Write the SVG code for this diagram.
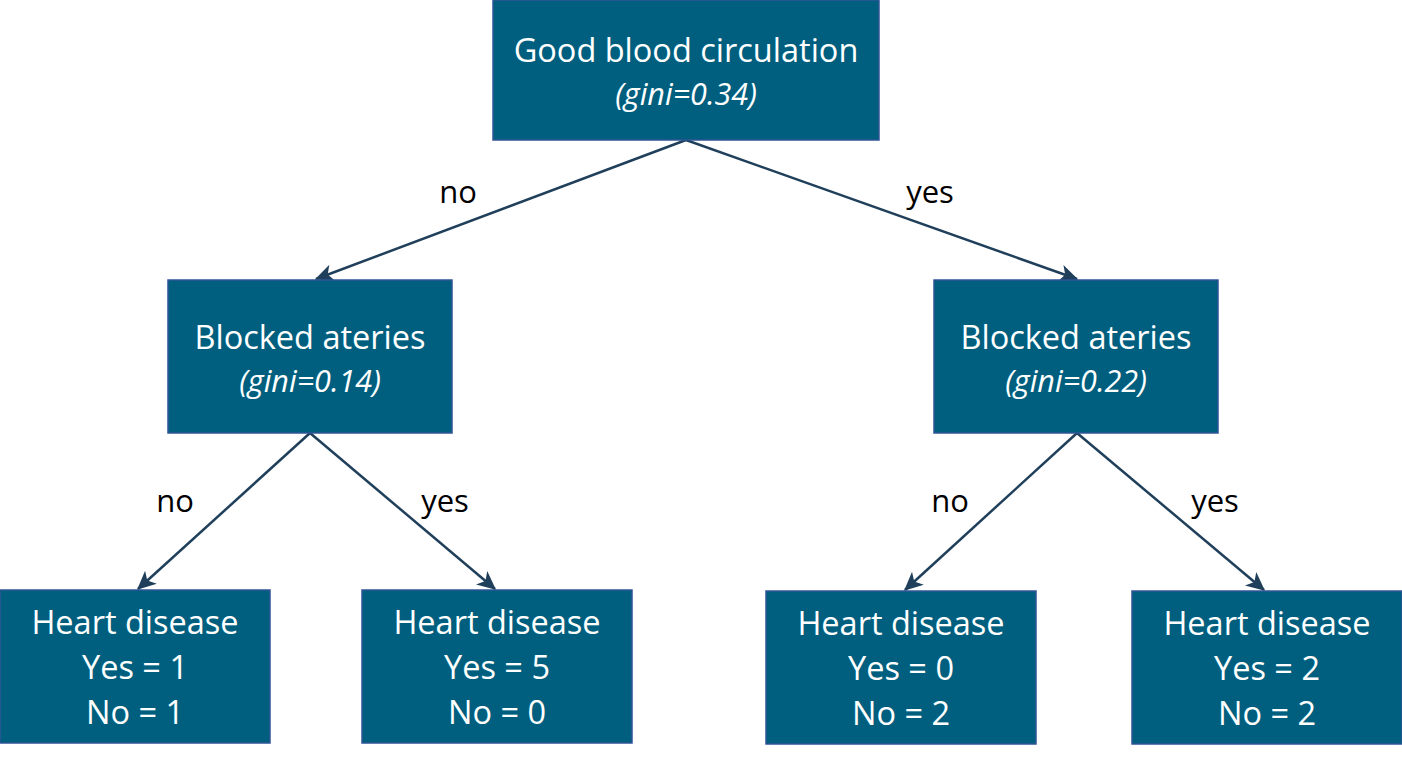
<svg xmlns="http://www.w3.org/2000/svg" width="1402" height="758" viewBox="0 0 1402 758">
<defs>
<style>
.box{fill:#005F7F;stroke:#2F5597;stroke-width:1.5}
.t{font-family:"Open Sans","Noto Sans",sans-serif;fill:#ffffff;text-anchor:middle;font-size:32.5px}
.g{font-family:"Open Sans","Noto Sans",sans-serif;fill:#ffffff;text-anchor:middle;font-size:30.5px;font-style:italic}
.lbl{font-family:"Open Sans","Noto Sans",sans-serif;fill:#000000;text-anchor:middle;font-size:31px}
.edge{stroke:#1F3F5A;stroke-width:2.5;fill:none;marker-end:url(#arr)}
</style>
<marker id="arr" markerWidth="8" markerHeight="8" refX="7" refY="4" orient="auto" markerUnits="strokeWidth">
<path d="M0,0.5 L7.5,4 L0,7.5 L2,4 Z" fill="#1F3F5A"/>
</marker>
</defs>
<rect width="1402" height="758" fill="#ffffff"/>
<g id="connectors">
<line class="edge" x1="686" y1="140" x2="316" y2="279"/>
<line class="edge" x1="686" y1="140" x2="1077" y2="279"/>
<line class="edge" x1="310" y1="433" x2="138" y2="589"/>
<line class="edge" x1="310" y1="433" x2="495" y2="589"/>
<line class="edge" x1="1077" y1="433" x2="905" y2="590"/>
<line class="edge" x1="1077" y1="433" x2="1264" y2="590"/>
<text class="lbl" x="458" y="203">no</text>
<text class="lbl" x="930" y="203">yes</text>
<text class="lbl" x="175" y="512">no</text>
<text class="lbl" x="445" y="512">yes</text>
<text class="lbl" x="950" y="512">no</text>
<text class="lbl" x="1215" y="512">yes</text>
</g>
<g id="root">
<rect class="box" x="493" y="0" width="386" height="140"/>
<text class="t" x="686" y="62">Good blood circulation</text>
<text class="g" x="686" y="105">(gini=0.34)</text>
</g>
<g id="left-mid">
<rect class="box" x="168" y="280" width="284" height="153"/>
<text class="t" x="310" y="349">Blocked ateries</text>
<text class="g" x="310" y="392">(gini=0.14)</text>
</g>
<g id="right-mid">
<rect class="box" x="934" y="280" width="284" height="153"/>
<text class="t" x="1076" y="349">Blocked ateries</text>
<text class="g" x="1076" y="392">(gini=0.22)</text>
</g>
<g id="leaf1">
<rect class="box" x="0" y="590" width="270" height="153"/>
<text class="t" x="135" y="634">Heart disease</text>
<text class="t" x="135" y="679">Yes = 1</text>
<text class="t" x="135" y="724">No = 1</text>
</g>
<g id="leaf2">
<rect class="box" x="362" y="590" width="270" height="153"/>
<text class="t" x="497" y="634">Heart disease</text>
<text class="t" x="497" y="679">Yes = 5</text>
<text class="t" x="497" y="724">No = 0</text>
</g>
<g id="leaf3">
<rect class="box" x="766" y="591" width="270" height="153"/>
<text class="t" x="901" y="635">Heart disease</text>
<text class="t" x="901" y="680">Yes = 0</text>
<text class="t" x="901" y="725">No = 2</text>
</g>
<g id="leaf4">
<rect class="box" x="1132" y="591" width="270" height="153"/>
<text class="t" x="1267" y="635">Heart disease</text>
<text class="t" x="1267" y="680">Yes = 2</text>
<text class="t" x="1267" y="725">No = 2</text>
</g>
</svg>
